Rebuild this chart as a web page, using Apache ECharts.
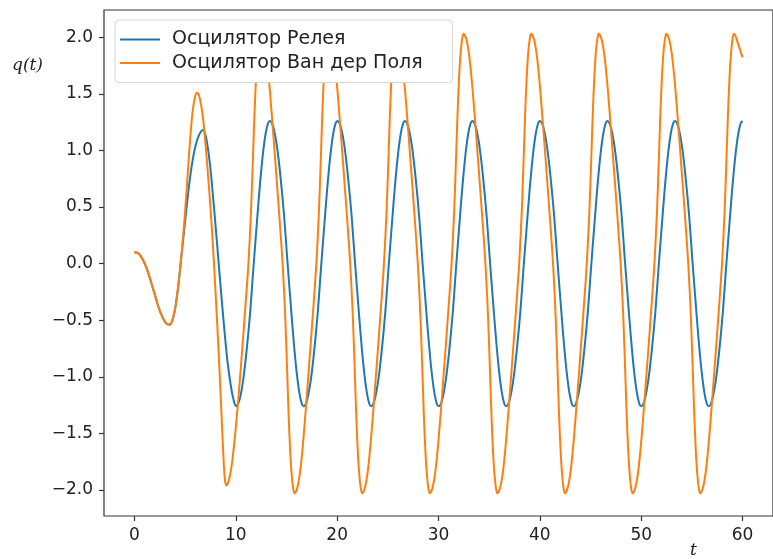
<!DOCTYPE html>
<html>
<head>
<meta charset="utf-8">
<script src="https://cdn.jsdelivr.net/npm/echarts@6/dist/echarts.min.js"></script>
<style>
  html, body { margin: 0; padding: 0; background: #fff; }
  #chart { width: 773px; height: 559px; }
</style>
</head>
<body>
<div id="chart"></div>
<script>
  // tick positions
  const xTicks = [0, 10, 20, 30, 40, 50, 60]
  const yTicks = [-2, -1.5, -1, -0.5, 0, 0.5, 1, 1.5, 2]

  const seriesNames = ['Осцилятор Релея', 'Осцилятор Ван дер Поля']

  // [t, q]: both curves coincide until t ~ 4.6
  const sharedStart = [
    [0, 0.10], [0.4, 0.09], [0.8, 0.04], [1.2, -0.04], [1.6, -0.15], [2.0, -0.27], [2.4, -0.39],
    [2.8, -0.48], [3.15, -0.53], [3.46, -0.54], [3.75, -0.50], [4.05, -0.38], [4.35, -0.18], [4.65, 0.08]
  ]

  // Rayleigh oscillator (blue)
  const rayleighQ = [
    [4.95, 0.33], [5.3, 0.62], [5.65, 0.86], [6.0, 1.03], [6.35, 1.13], [6.76, 1.18], [7.1, 1.10],
    [7.45, 0.88], [7.8, 0.55], [8.15, 0.18], [8.5, -0.20], [8.85, -0.56], [9.2, -0.88], [9.55, -1.10], [9.8, -1.21],
    [10.03, -1.26], [10.38, -1.20], [10.73, -1.03], [11.08, -0.76], [11.43, -0.42], [11.73, -0.05], [12.03, 0.30], [12.33, 0.64], [12.63, 0.93], [12.93, 1.14], [13.18, 1.24],
    [13.37, 1.26], [13.72, 1.20], [14.07, 1.03], [14.42, 0.76], [14.77, 0.42], [15.07, 0.05], [15.37, -0.30], [15.67, -0.64], [15.97, -0.93], [16.27, -1.14], [16.52, -1.24],
    [16.70, -1.26], [17.05, -1.20], [17.40, -1.03], [17.75, -0.76], [18.10, -0.42], [18.40, -0.05], [18.70, 0.30], [19.00, 0.64], [19.30, 0.93], [19.60, 1.14], [19.85, 1.24],
    [20.03, 1.26], [20.38, 1.20], [20.73, 1.03], [21.08, 0.76], [21.43, 0.42], [21.73, 0.05], [22.03, -0.30], [22.33, -0.64], [22.63, -0.93], [22.93, -1.14], [23.18, -1.24],
    [23.36, -1.26], [23.71, -1.20], [24.06, -1.03], [24.41, -0.76], [24.76, -0.42], [25.06, -0.05], [25.36, 0.30], [25.66, 0.64], [25.96, 0.93], [26.26, 1.14], [26.51, 1.24],
    [26.69, 1.26], [27.04, 1.20], [27.39, 1.03], [27.74, 0.76], [28.09, 0.42], [28.39, 0.05], [28.69, -0.30], [28.99, -0.64], [29.29, -0.93], [29.59, -1.14], [29.84, -1.24],
    [30.02, -1.26], [30.37, -1.20], [30.72, -1.03], [31.07, -0.76], [31.42, -0.42], [31.72, -0.05], [32.02, 0.30], [32.32, 0.64], [32.62, 0.93], [32.92, 1.14], [33.17, 1.24],
    [33.35, 1.26], [33.70, 1.20], [34.05, 1.03], [34.40, 0.76], [34.75, 0.42], [35.05, 0.05], [35.35, -0.30], [35.65, -0.64], [35.95, -0.93], [36.25, -1.14], [36.50, -1.24],
    [36.68, -1.26], [37.03, -1.20], [37.38, -1.03], [37.73, -0.76], [38.08, -0.42], [38.38, -0.05], [38.68, 0.30], [38.98, 0.64], [39.28, 0.93], [39.58, 1.14], [39.83, 1.24],
    [40.01, 1.26], [40.36, 1.20], [40.71, 1.03], [41.06, 0.76], [41.41, 0.42], [41.71, 0.05], [42.01, -0.30], [42.31, -0.64], [42.61, -0.93], [42.91, -1.14], [43.16, -1.24],
    [43.34, -1.26], [43.69, -1.20], [44.04, -1.03], [44.39, -0.76], [44.74, -0.42], [45.04, -0.05], [45.34, 0.30], [45.64, 0.64], [45.94, 0.93], [46.24, 1.14], [46.49, 1.24],
    [46.67, 1.26], [47.02, 1.20], [47.37, 1.03], [47.72, 0.76], [48.07, 0.42], [48.37, 0.05], [48.67, -0.30], [48.97, -0.64], [49.27, -0.93], [49.57, -1.14], [49.82, -1.24],
    [50.00, -1.26], [50.35, -1.20], [50.70, -1.03], [51.05, -0.76], [51.40, -0.42], [51.70, -0.05], [52.00, 0.30], [52.30, 0.64], [52.60, 0.93], [52.90, 1.14], [53.15, 1.24],
    [53.33, 1.26], [53.68, 1.20], [54.03, 1.03], [54.38, 0.76], [54.73, 0.42], [55.03, 0.05], [55.33, -0.30], [55.63, -0.64], [55.93, -0.93], [56.23, -1.14], [56.48, -1.24],
    [56.66, -1.26], [57.01, -1.20], [57.36, -1.03], [57.71, -0.76], [58.06, -0.42], [58.36, -0.05], [58.66, 0.30], [58.96, 0.64], [59.26, 0.93], [59.56, 1.14], [59.81, 1.24],
    [60.0, 1.26]
  ]

  // Van der Pol oscillator (orange)
  const vdpQ = [
    [4.95, 0.40], [5.25, 0.78], [5.5, 1.10], [5.75, 1.35], [6.0, 1.48], [6.2, 1.51], [6.45, 1.46], [6.75, 1.30],
    [7.05, 1.02], [7.35, 0.68], [7.65, 0.30], [7.9, -0.08], [8.15, -0.50], [8.4, -0.95], [8.6, -1.35], [8.78, -1.70], [8.92, -1.90],
    [9.06, -1.96], [9.36, -1.90], [9.66, -1.74], [9.98, -1.47], [10.35, -1.09], [10.7, -0.68], [11.0, -0.32], [11.25, 0.00], [11.5, 0.45], [11.7, 0.95], [11.86, 1.35], [12.01, 1.66], [12.16, 1.87], [12.31, 1.99],
    [12.47, 2.03], [12.77, 1.97], [13.07, 1.80], [13.37, 1.52], [13.72, 1.12], [14.07, 0.70], [14.37, 0.33], [14.62, 0.00], [14.87, -0.45], [15.07, -0.95], [15.22, -1.35], [15.37, -1.66], [15.52, -1.87], [15.67, -1.99],
    [15.80, -2.03], [16.10, -1.97], [16.40, -1.80], [16.70, -1.52], [17.05, -1.12], [17.40, -0.70], [17.70, -0.33], [17.95, 0.00], [18.20, 0.45], [18.40, 0.95], [18.55, 1.35], [18.70, 1.66], [18.85, 1.87], [19.00, 1.99],
    [19.14, 2.03], [19.44, 1.97], [19.74, 1.80], [20.04, 1.52], [20.39, 1.12], [20.74, 0.70], [21.04, 0.33], [21.29, 0.00], [21.54, -0.45], [21.74, -0.95], [21.89, -1.35], [22.04, -1.66], [22.19, -1.87], [22.34, -1.99],
    [22.47, -2.03], [22.77, -1.97], [23.07, -1.80], [23.37, -1.52], [23.72, -1.12], [24.07, -0.70], [24.37, -0.33], [24.62, 0.00], [24.87, 0.45], [25.07, 0.95], [25.22, 1.35], [25.37, 1.66], [25.52, 1.87], [25.67, 1.99],
    [25.81, 2.03], [26.11, 1.97], [26.41, 1.80], [26.71, 1.52], [27.06, 1.12], [27.41, 0.70], [27.71, 0.33], [27.96, 0.00], [28.21, -0.45], [28.41, -0.95], [28.56, -1.35], [28.71, -1.66], [28.86, -1.87], [29.01, -1.99],
    [29.14, -2.03], [29.44, -1.97], [29.74, -1.80], [30.04, -1.52], [30.39, -1.12], [30.74, -0.70], [31.04, -0.33], [31.29, 0.00], [31.54, 0.45], [31.74, 0.95], [31.89, 1.35], [32.04, 1.66], [32.19, 1.87], [32.34, 1.99],
    [32.48, 2.03], [32.78, 1.97], [33.08, 1.80], [33.38, 1.52], [33.73, 1.12], [34.08, 0.70], [34.38, 0.33], [34.63, 0.00], [34.88, -0.45], [35.08, -0.95], [35.23, -1.35], [35.38, -1.66], [35.53, -1.87], [35.68, -1.99],
    [35.81, -2.03], [36.11, -1.97], [36.41, -1.80], [36.71, -1.52], [37.06, -1.12], [37.41, -0.70], [37.71, -0.33], [37.96, 0.00], [38.21, 0.45], [38.41, 0.95], [38.56, 1.35], [38.71, 1.66], [38.86, 1.87], [39.01, 1.99],
    [39.15, 2.03], [39.45, 1.97], [39.75, 1.80], [40.05, 1.52], [40.40, 1.12], [40.75, 0.70], [41.05, 0.33], [41.30, 0.00], [41.55, -0.45], [41.75, -0.95], [41.90, -1.35], [42.05, -1.66], [42.20, -1.87], [42.35, -1.99],
    [42.48, -2.03], [42.78, -1.97], [43.08, -1.80], [43.38, -1.52], [43.73, -1.12], [44.08, -0.70], [44.38, -0.33], [44.63, 0.00], [44.88, 0.45], [45.08, 0.95], [45.23, 1.35], [45.38, 1.66], [45.53, 1.87], [45.68, 1.99],
    [45.82, 2.03], [46.12, 1.97], [46.42, 1.80], [46.72, 1.52], [47.07, 1.12], [47.42, 0.70], [47.72, 0.33], [47.97, 0.00], [48.22, -0.45], [48.42, -0.95], [48.57, -1.35], [48.72, -1.66], [48.87, -1.87], [49.02, -1.99],
    [49.15, -2.03], [49.45, -1.97], [49.75, -1.80], [50.05, -1.52], [50.40, -1.12], [50.75, -0.70], [51.05, -0.33], [51.30, 0.00], [51.55, 0.45], [51.75, 0.95], [51.90, 1.35], [52.05, 1.66], [52.20, 1.87], [52.35, 1.99],
    [52.49, 2.03], [52.79, 1.97], [53.09, 1.80], [53.39, 1.52], [53.74, 1.12], [54.09, 0.70], [54.39, 0.33], [54.64, 0.00], [54.89, -0.45], [55.09, -0.95], [55.24, -1.35], [55.39, -1.66], [55.54, -1.87], [55.69, -1.99],
    [55.82, -2.03], [56.12, -1.97], [56.42, -1.80], [56.72, -1.52], [57.07, -1.12], [57.42, -0.70], [57.72, -0.33], [57.97, 0.00], [58.22, 0.45], [58.42, 0.95], [58.57, 1.35], [58.72, 1.66], [58.87, 1.87], [59.02, 1.99],
    [59.16, 2.03], [59.6, 1.93], [60.0, 1.82]
  ]

  const textColor = '#222'
  const tickFont = 'DejaVu Sans'

  /* подписи делений с настоящим минусом */
  function fmt(v) {
    return (v < 0 ? '\u2212' : '') + Math.abs(v).toFixed(1)
  }

  const myChart = echarts.init(document.getElementById('chart'), null, { renderer: 'canvas' })
  myChart.setOption({
    animation: false,
    backgroundColor: '#fff',
    grid: {
      left: 104,
      right: -11,
      top: 10,
      bottom: 43,
      show: true,
      borderColor: '#333',
      borderWidth: 1.2,
      backgroundColor: 'transparent'
    },
    legend: {
      data: seriesNames,
      orient: 'vertical',
      left: 115,
      top: 20,
      icon: 'rect',
      itemWidth: 40,
      itemHeight: 2,
      itemGap: 4.5,
      padding: [10, 30, 10, 5],
      backgroundColor: '#fff',
      borderColor: '#d4d4d4',
      borderWidth: 1,
      borderRadius: 4,
      textStyle: {
        fontFamily: tickFont,
        fontSize: 19,
        color: textColor,
        padding: [0, 0, 0, 7]
      }
    },
    xAxis: {
      type: 'value',
      min: -3,
      max: 63,
      axisLine: { show: false, onZero: false },
      splitLine: { show: false },
      axisTick: {
        show: true,
        length: 5,
        customValues: xTicks,
        lineStyle: { color: '#333', width: 1.2 }
      },
      axisLabel: {
        customValues: xTicks,
        margin: 11,
        fontFamily: tickFont,
        fontSize: 17,
        color: textColor
      }
    },
    yAxis: {
      type: 'value',
      min: -2.23,
      max: 2.24,
      axisLine: { show: false, onZero: false },
      splitLine: { show: false },
      axisTick: {
        show: true,
        length: 5,
        customValues: yTicks,
        lineStyle: { color: '#333', width: 1.2 }
      },
      axisLabel: {
        customValues: yTicks,
        margin: 11,
        fontFamily: tickFont,
        fontSize: 17,
        color: textColor,
        formatter: fmt
      }
    },
    graphic: [
      {
        type: 'text',
        left: 12,
        top: 57,
        style: { text: 'q(t)', font: 'italic 17px "DejaVu Serif"', fill: textColor }
      },
      {
        type: 'text',
        left: 690,
        top: 542,
        style: { text: 't', font: 'italic 17px "DejaVu Serif"', fill: textColor }
      }
    ],
    series: [
      {
        name: seriesNames[0],
        type: 'line',
        data: sharedStart.concat(rayleighQ),
        showSymbol: false,
        smooth: 0.3,
        color: '#1f77b4',
        lineStyle: { width: 2, color: '#1f77b4' }
      },
      {
        name: seriesNames[1],
        type: 'line',
        data: sharedStart.concat(vdpQ),
        showSymbol: false,
        smooth: 0.3,
        color: '#ff7f0e',
        lineStyle: { width: 2, color: '#ff7f0e' }
      }
    ]
  })
</script>
</body>
</html>
